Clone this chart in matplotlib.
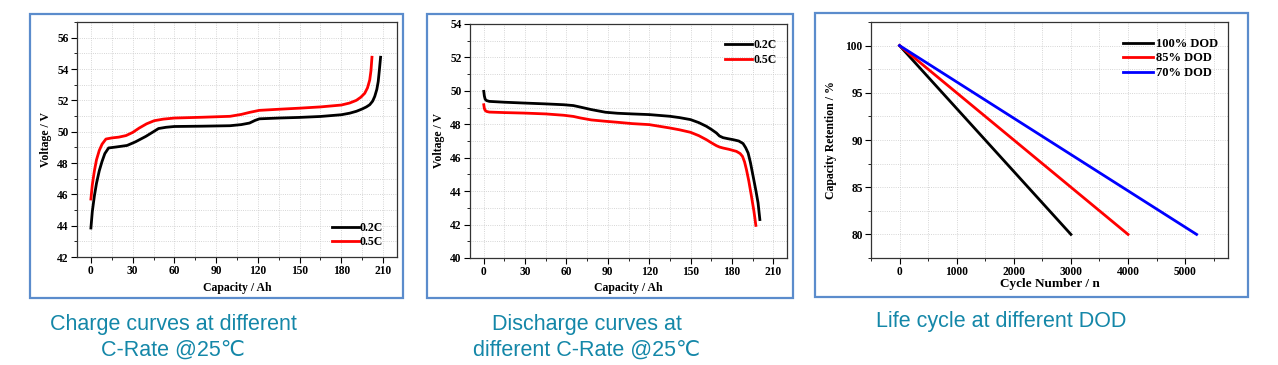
import matplotlib.pyplot as plt
from matplotlib.patches import Rectangle
from matplotlib.ticker import MultipleLocator

# charge curves (capacity Ah, voltage V)
chg_02_cap = [0, 1, 2.5, 4, 6, 8, 10, 12.7, 18, 26, 32, 39.5, 45, 48.6, 54, 60, 80, 100, 108, 114, 118, 121.2, 135, 150, 165, 180,
              186, 190.8, 195, 198, 200.4, 202.5, 204, 205.5, 206.5, 207.3, 208.2]
chg_02_v = [43.85, 44.9, 45.9, 46.7, 47.5, 48.1, 48.6, 48.96, 49.02, 49.12, 49.35, 49.7, 50.0, 50.2, 50.28, 50.33, 50.35, 50.38, 50.45,
            50.55, 50.72, 50.82, 50.87, 50.91, 50.97, 51.08, 51.18, 51.3, 51.45, 51.58, 51.72, 51.95, 52.25, 52.7, 53.2, 53.9, 54.75]
chg_05_cap = [0, 1, 2.5, 4, 6, 8, 10.8, 15, 20, 25.2, 30, 34.7, 40, 45.5, 52, 60, 80, 100, 108, 114, 121, 135, 150, 165, 180,
              186, 190.8, 194, 196.8, 198.8, 200.4, 201.3, 202]
chg_05_v = [45.7, 46.6, 47.5, 48.2, 48.8, 49.2, 49.53, 49.6, 49.65, 49.75, 49.95, 50.23, 50.5, 50.7, 50.8, 50.87, 50.92, 50.98, 51.1,
            51.23, 51.36, 51.43, 51.5, 51.58, 51.7, 51.83, 52.0, 52.2, 52.45, 52.8, 53.3, 53.9, 54.75]

# discharge curves
dis_02_cap = [0, 0.4, 1, 2, 4, 15, 29.5, 45, 58, 65, 70, 78, 88.3, 97, 107.7, 120, 134.9, 142, 150, 156, 161.5, 165, 168.8, 171, 173.6,
              177, 180.9, 185, 188.1, 190, 191.8, 193.5, 195.4, 197.5, 199, 200.3]
dis_02_v = [49.97, 49.7, 49.5, 49.42, 49.37, 49.32, 49.27, 49.22, 49.17, 49.12, 49.03, 48.88, 48.72, 48.66, 48.62, 48.58, 48.48, 48.4,
            48.28, 48.1, 47.88, 47.7, 47.48, 47.3, 47.2, 47.14, 47.08, 47.0, 46.85, 46.6, 46.28, 45.7, 44.9, 44.0, 43.3, 42.3]
dis_05_cap = [0, 0.4, 1, 2, 4, 15, 29.5, 45, 58, 65, 70, 78, 88.3, 97, 107.7, 120, 134.9, 142, 150, 156, 161.5, 165, 168.8, 171,
              173.6, 178, 183.3, 186, 187.7, 189.2, 190.6, 192.3, 194.2, 196, 197.4]
dis_05_v = [49.17, 48.95, 48.83, 48.77, 48.73, 48.7, 48.67, 48.62, 48.54, 48.47, 48.38, 48.26, 48.18, 48.12, 48.04, 47.98, 47.78,
            47.67, 47.52, 47.32, 47.08, 46.9, 46.72, 46.64, 46.58, 46.5, 46.38, 46.25, 46.08, 45.75, 45.28, 44.6, 43.7, 42.8, 41.95]

# life cycle (cycle number, retention %)
dod_labels = ['100% DOD', '85% DOD', '70% DOD']
dod_cycles = [[0, 3000], [0, 4000], [0, 5200]]
dod_retention = [[100, 80], [100, 80], [100, 80]]
dod_colors = ['black', '#ff0000', '#0000ff']

W, H = 1278, 365
fig = plt.figure(figsize=(W / 100, H / 100), dpi=100)

serif = ['Liberation Serif', 'DejaVu Serif']
tickfont = dict(family=serif, weight='bold', size=8.3)
labfont = dict(family=serif, weight='bold', size=8.5)


def frame(x0, y0, x1, y1):
    fig.patches.append(Rectangle((x0 / W, 1 - y1 / H), (x1 - x0) / W, (y1 - y0) / H, transform=fig.transFigure,
                                 fill=False, edgecolor='#5b8ccc', linewidth=1.6))


def axes_px(l, t, r, b):
    return fig.add_axes([l / W, 1 - b / H, (r - l) / W, (b - t) / H])


def style(ax, xmaj, xmin, ymaj, ymin):
    ax.xaxis.set_major_locator(MultipleLocator(xmaj))
    ax.xaxis.set_minor_locator(MultipleLocator(xmin))
    ax.yaxis.set_major_locator(MultipleLocator(ymaj))
    ax.yaxis.set_minor_locator(MultipleLocator(ymin))
    ax.grid(True, which='both', linestyle=':', color='#c8c8c8', linewidth=0.6)
    ax.set_axisbelow(True)
    ax.tick_params(which='major', direction='out', length=4, width=0.8, pad=2)
    ax.tick_params(which='minor', direction='out', length=2, width=0.6)
    for lab in ax.get_xticklabels() + ax.get_yticklabels():
        lab.set(**tickfont)
    for s in ax.spines.values():
        s.set_linewidth(0.9)
        s.set_color('#333333')


frame(30, 14, 403, 298)
frame(427, 14, 793, 298)
frame(815, 13, 1248, 297)

legfont = dict(family=serif, weight='bold', size=8.5)

# charge
ax1 = axes_px(77, 22, 397, 257)
ax1.plot(chg_02_cap, chg_02_v, color='black', lw=2, label='0.2C')
ax1.plot(chg_05_cap, chg_05_v, color='#ff0000', lw=2, label='0.5C')
ax1.set_xlim(-10, 220)
ax1.set_ylim(42, 57)
style(ax1, 30, 15, 2, 1)
ax1.set_xlabel('Capacity / Ah', **labfont, labelpad=3)
ax1.set_ylabel('Voltage / V', **labfont, labelpad=4)
ax1.legend(loc='lower right', frameon=False, handlelength=2.3, handletextpad=0.1, labelspacing=0.15,
           prop=legfont, bbox_to_anchor=(0.99, -0.008))

# discharge
ax2 = axes_px(470, 24, 787, 258)
ax2.plot(dis_02_cap, dis_02_v, color='black', lw=2, label='0.2C')
ax2.plot(dis_05_cap, dis_05_v, color='#ff0000', lw=2, label='0.5C')
ax2.set_xlim(-10, 220)
ax2.set_ylim(40, 54)
style(ax2, 30, 15, 2, 1)
ax2.set_xlabel('Capacity / Ah', **labfont, labelpad=3)
ax2.set_ylabel('Voltage / V', **labfont, labelpad=4)
ax2.legend(loc='upper right', frameon=False, handlelength=2.3, handletextpad=0.1, labelspacing=0.2,
           prop=legfont, bbox_to_anchor=(1.0, 0.98))

# life cycle
ax3 = axes_px(871, 22, 1228, 258)
for cyc, ret, lab, col in zip(dod_cycles, dod_retention, dod_labels, dod_colors):
    ax3.plot(cyc, ret, color=col, lw=2, label=lab)
ax3.set_xlim(-500, 5750)
ax3.set_ylim(77.5, 102.5)
style(ax3, 1000, 500, 5, 2.5)
ax3.set_xlabel('Cycle Number / n', family=serif, weight='bold', size=9.5, labelpad=0)
ax3.set_ylabel('Capacity Retention / %', family=serif, weight='bold', size=8.5, labelpad=6)
ax3.legend(loc='upper right', frameon=False, handlelength=2.4, handletextpad=0.2, labelspacing=0.2,
           prop=dict(family=serif, weight='bold', size=9), bbox_to_anchor=(1.003, 0.98))

# captions
cap = dict(color='#1487a8', size=15.5, ha='center', va='center', family=['Liberation Sans', 'DejaVu Sans'],
           linespacing=1.3)
fig.text(173 / W, 1 - 337 / H, 'Charge curves at different\nC-Rate @25℃', **cap)
fig.text(587 / W, 1 - 337 / H, 'Discharge curves at\ndifferent C-Rate @25℃', **cap)
fig.text(1001 / W, 1 - 322 / H, 'Life cycle at different DOD', **cap)

fig.savefig('out.png', dpi=100, facecolor='white')
